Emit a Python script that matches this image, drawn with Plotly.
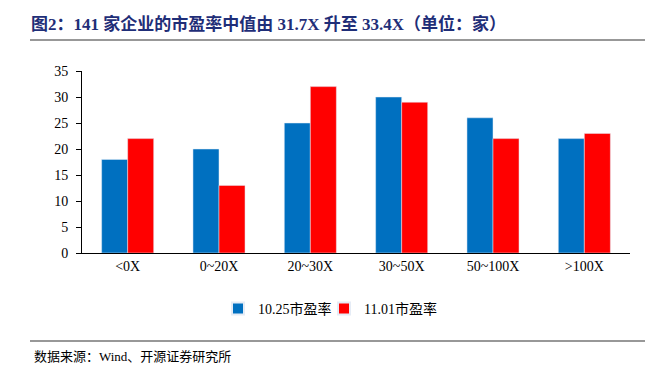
import plotly.graph_objects as go

categories = ["<0X", "0~20X", "20~30X", "30~50X", "50~100X", ">100X"]
pe_1025 = [18, 20, 25, 30, 26, 22]
pe_1101 = [22, 13, 32, 29, 22, 23]
series_names = ["10.25市盈率", "11.01市盈率"]
y_ticks = [0, 5, 10, 15, 20, 25, 30, 35]

W, H = 651, 378
L, R, T, B = 82, 21, 71, 125

font_fam = "Liberation Serif, Noto Sans CJK SC, serif"

fig = go.Figure()
fig.add_trace(go.Bar(x=categories, y=pe_1025, name=series_names[0], marker_color="#0070C0",
                     legend="legend"))
fig.add_trace(go.Bar(x=categories, y=pe_1101, name=series_names[1], marker_color="#FF0000",
                     legend="legend2"))

def px_x(x):
    return (x - L) / (W - L - R)

def px_y(y):
    return (H - B - y) / (H - T - B)

leg_common = dict(orientation="h", xanchor="left", y=px_y(309), yanchor="middle",
                  font=dict(size=14), itemwidth=30, itemsizing="constant",
                  bgcolor="rgba(0,0,0,0)")

fig.update_layout(
    width=W, height=H,
    margin=dict(l=L, r=R, t=T, b=B, autoexpand=False),
    plot_bgcolor="white", paper_bgcolor="white",
    barmode="group", bargap=0.43, bargroupgap=0,
    font=dict(family=font_fam, size=14, color="#000000"),
    showlegend=True,
    legend=dict(x=px_x(218), **leg_common),
    legend2=dict(x=px_x(324), **leg_common),
    xaxis=dict(showline=True, linecolor="#000000", linewidth=1, ticks="",
               tickfont=dict(size=14), showgrid=False),
    yaxis=dict(range=[0, 35], tickvals=y_ticks, showline=True, linecolor="#000000",
               linewidth=1, ticks="outside", ticklen=5, tickcolor="#000000",
               ticklabelstandoff=5,
               showgrid=False, zeroline=False, tickfont=dict(size=14)),
    title=dict(text="<b>图2：141 家企业的市盈率中值由 31.7X 升至 33.4X（单位：家）</b>",
               x=31 / W, xanchor="left", xref="container",
               y=1 - 24 / H, yanchor="middle", yref="container",
               font=dict(size=17, color="#1F2E78", family=font_fam)),
)

fig.add_shape(type="line", xref="paper", yref="paper",
              x0=px_x(30), x1=px_x(645), y0=px_y(40), y1=px_y(40),
              line=dict(color="#333333", width=1.2))
fig.add_shape(type="line", xref="paper", yref="paper",
              x0=px_x(30), x1=px_x(645), y0=px_y(341), y1=px_y(341),
              line=dict(color="#333333", width=1.2))
fig.add_annotation(text="数据来源：Wind、开源证券研究所", xref="paper", yref="paper",
                   x=px_x(32), y=px_y(356), xanchor="left", yanchor="middle",
                   showarrow=False, font=dict(size=13, color="#000000", family=font_fam))

fig.write_html("out.html", config={"displayModeBar": False},
               post_script="document.body.style.margin='0';document.body.style.padding='0';")
